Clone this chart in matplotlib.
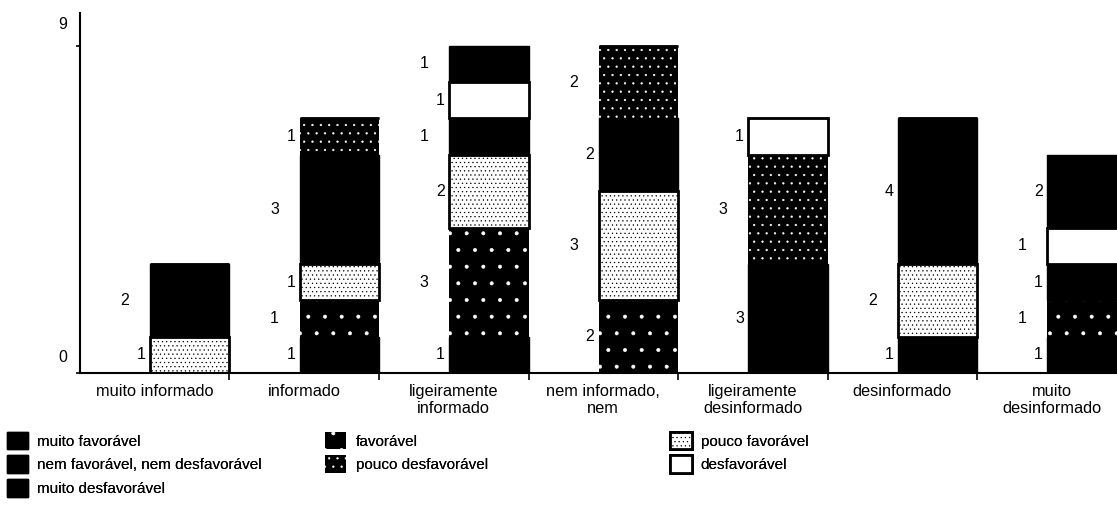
import matplotlib
matplotlib.use("Agg")
import matplotlib.pyplot as plt
import matplotlib.patches as mpatches
import matplotlib.transforms as mtransforms
import numpy as np

plt.rcParams['font.family'] = ['Liberation Sans', 'DejaVu Sans']
plt.rcParams['hatch.linewidth'] = 0.4

# categorias (eixo x)
categories = ['muito informado', 'informado', 'ligeiramente\ninformado',
              'nem informado,\nnem', 'ligeiramente\ndesinformado',
              'desinformado', 'muito\ndesinformado']

# contagens por opinião (de baixo para cima)
muito_fav = [0, 1, 1, 0, 0, 1, 1]
fav = [0, 1, 3, 2, 0, 0, 1]
pouco_fav = [1, 1, 2, 3, 0, 2, 0]
nem = [2, 3, 1, 2, 3, 4, 1]
pouco_desf = [0, 1, 0, 2, 3, 0, 0]
desf = [0, 0, 1, 0, 1, 0, 1]
muito_desf = [0, 0, 1, 0, 0, 0, 2]

series = [
    ('muito favorável', muito_fav, dict(facecolor='black', edgecolor='black', linewidth=1)),
    ('favorável', fav, dict(facecolor='black', edgecolor='white', linewidth=0, hatch='.')),
    ('pouco favorável', pouco_fav, dict(facecolor='white', edgecolor='black', linewidth=2, hatch='....')),
    ('nem favorável, nem desfavorável', nem, dict(facecolor='black', edgecolor='black', linewidth=1)),
    ('pouco desfavorável', pouco_desf, dict(facecolor='black', edgecolor='white', linewidth=0, hatch='..')),
    ('desfavorável', desf, dict(facecolor='white', edgecolor='black', linewidth=2)),
    ('muito desfavorável', muito_desf, dict(facecolor='black', edgecolor='black', linewidth=1)),
]

fig = plt.figure(figsize=(11.17, 5.17), dpi=100)
ax = fig.add_axes([0.0716, 0.2785, 0.937, 0.6965])

x = np.arange(len(categories))
bar_left = x + 0.47
width = 0.53
bottom = np.zeros(len(categories))
count = np.zeros(len(categories), dtype=int)  # alterna posição dos rótulos

for name, vals, style in series:
    vals = np.array(vals, dtype=float)
    ax.bar(bar_left, vals, width=width, bottom=bottom, align='edge', **style)
    for i, v in enumerate(vals):
        if v > 0:
            off = 0.03 if count[i] % 2 == 0 else 0.14
            ax.text(bar_left[i] - off, bottom[i] + v / 2, '%d' % v,
                    ha='right', va='center', fontsize=11.5)
            count[i] += 1
    bottom += vals

ax.set_xlim(0, 7)
ax.set_ylim(0, 9.9)

for s in ['top', 'right']:
    ax.spines[s].set_visible(False)
ax.spines['left'].set_linewidth(1.5)
ax.spines['bottom'].set_linewidth(1.5)

ax.set_xticks(np.arange(1, 8))
ax.set_xticklabels([])
ax.set_xticks(x + 0.5, minor=True)
ax.set_xticklabels(categories, minor=True, fontsize=11.8, linespacing=1.15)
ax.tick_params(axis='x', which='major', length=5, width=1.2)
ax.tick_params(axis='x', which='minor', length=0, pad=8)

ax.set_yticks([0, 9])
ax.set_yticklabels(['0', '9'], fontsize=11.5)
ax.tick_params(axis='y', length=3, width=1.2, pad=6)
for lab, dy in zip(ax.get_yticklabels(), [17, 23]):
    lab.set_transform(lab.get_transform() +
                      mtransforms.ScaledTranslation(0, dy / 100, fig.dpi_scale_trans))

# legenda em três colunas
handles = {name: mpatches.Patch(label=name, **style) for name, vals, style in series}
cols = [
    (['muito favorável', 'nem favorável, nem desfavorável', 'muito desfavorável'], 0.006),
    (['favorável', 'pouco desfavorável'], 0.291),
    (['pouco favorável', 'desfavorável'], 0.600),
]
for names, xpos in cols:
    leg = fig.legend(handles=[handles[n] for n in names], loc='upper left',
                     bbox_to_anchor=(xpos, 0.165), frameon=False, fontsize=11,
                     handlelength=1.4, handleheight=1.4, handletextpad=0.6,
                     labelspacing=0.4, borderaxespad=0, borderpad=0)
    fig.add_artist(leg)

fig.savefig('out.png', dpi=100)
